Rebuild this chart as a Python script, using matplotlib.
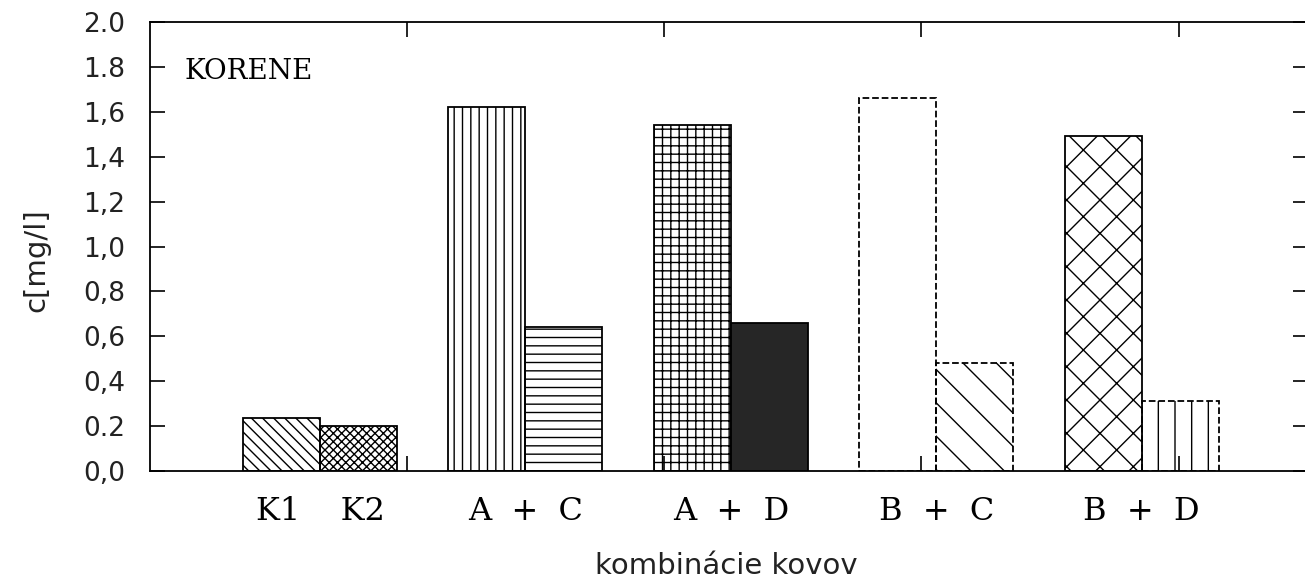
import matplotlib
matplotlib.use("Agg")
import matplotlib.pyplot as plt
import numpy as np

# ---- data ----
groups = ["K1    K2", "A  +  C", "A  +  D", "B  +  C", "B  +  D"]
left_vals = [0.238, 1.62, 1.54, 1.66, 1.49]
right_vals = [0.200, 0.64, 0.66, 0.48, 0.31]
left_hatch = ["\\\\\\", "||", "++", "", "x"]
right_hatch = ["xxxx", "--", "", "\\", "|"]
left_ls = ["-", "-", "-", "--", "-"]
right_ls = ["-", "-", "-", "--", "--"]
right_face = ["none", "none", "#262626", "none", "none"]
yticks = [0.0, 0.2, 0.4, 0.6, 0.8, 1.0, 1.2, 1.4, 1.6, 1.8, 2.0]
ytick_labels = ["0,0", "0.2", "0,4", "0,6", "0,8", "1,0", "1,2", "1,4", "1,6", "1.8", "2.0"]
title_text = "KORENE"
xlabel = "kombinácie kovov"
ylabel = "c[mg/l]"

W, H = 1305, 581
fig = plt.figure(figsize=(W / 100, H / 100), dpi=100)
ax = fig.add_axes([150 / W, 1 - 471 / H, (1308 - 150) / W, (471 - 22) / H])

x = np.arange(len(groups))
bw = 0.375
for i in range(len(groups)):
    ax.bar(x[i] - bw / 2, left_vals[i], width=bw, facecolor="none",
           edgecolor="black", hatch=left_hatch[i], linewidth=1.3,
           linestyle=left_ls[i], zorder=3)
    ax.bar(x[i] + bw / 2, right_vals[i], width=bw, facecolor=right_face[i],
           edgecolor="black", hatch=right_hatch[i], linewidth=1.3,
           linestyle=right_ls[i], zorder=3)

ax.set_xlim(-0.828, 4.81)
ax.set_ylim(0, 2.0)

ax.set_xticks(x)
ax.set_xticklabels(groups, family="DejaVu Serif", fontsize=23)
ax.tick_params(axis="x", which="major", length=0, pad=18)
ax.set_xticks(np.arange(4) * 1.252 + 0.424, minor=True)
ax.tick_params(axis="x", which="minor", direction="in", length=11,
               width=1.2, top=True, bottom=True)

ax.set_yticks(yticks)
ax.set_yticklabels(ytick_labels, family="DejaVu Sans", fontsize=19,
                   color="#222222")
ax.tick_params(axis="y", which="major", direction="in", length=11,
               width=1.2, left=True, right=True, pad=18)

for s in ax.spines.values():
    s.set_linewidth(1.3)

ax.text(0.03, 0.889, title_text, transform=ax.transAxes, family="DejaVu Serif",
        fontsize=20, va="center", ha="left")

fig.text((150 + 1303) / 2 / W, 1 - 566 / H, xlabel, family="DejaVu Sans",
         fontsize=21, ha="center", va="center", color="#222222")
fig.text(36 / W, 1 - 260 / H, ylabel, family="DejaVu Sans", fontsize=21,
         rotation=90, ha="center", va="center", color="#222222")

fig.savefig("out.png", dpi=100)
